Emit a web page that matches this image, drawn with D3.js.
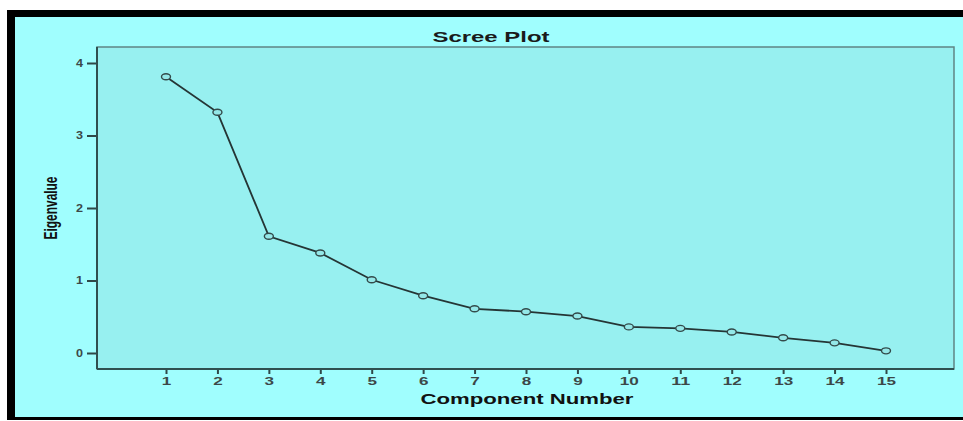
<!DOCTYPE html>
<html>
<head>
<meta charset="utf-8">
<script src="https://cdn.jsdelivr.net/npm/d3@7"></script>
<style>
  html, body { margin: 0; padding: 0; background: #ffffff; }
  svg { display: block; font-family: Arial, "Liberation Sans", sans-serif; }
</style>
</head>
<body>
<svg id="chart" width="963" height="421"></svg>
<script>
// Scree plot data: eigenvalue of each principal component
const components = [1, 2, 3, 4, 5, 6, 7, 8, 9, 10, 11, 12, 13, 14, 15];
const eigenvalues = [3.81, 3.32, 1.61, 1.38, 1.01, 0.79, 0.61, 0.57, 0.51, 0.36, 0.34, 0.29, 0.21, 0.14, 0.03];
const yTicks = [0, 1, 2, 3, 4];
const titleText = "Scree Plot";
const xTitle = "Component Number";
const yTitle = "Eigenvalue";

const svg = d3.select("#chart");

// Page frame: black band on top, left and bottom, cyan canvas inside
svg.append("rect").attr("x", 7).attr("y", 10).attr("width", 956).attr("height", 410).attr("fill", "#000");
svg.append("rect").attr("x", 15).attr("y", 17).attr("width", 948).attr("height", 400).attr("fill", "#a0fefe");

// Plot box
const box = { left: 97, top: 47, right: 954, bottom: 369 };

const x = d3.scaleLinear().domain([1, 15]).range([166, 886]);
const y = d3.scaleLinear().domain([0, 4]).range([353, 63]);

svg.append("rect")
  .attr("x", box.left).attr("y", box.top)
  .attr("width", box.right - box.left).attr("height", box.bottom - box.top)
  .attr("fill", "#97f0f0")
  .attr("stroke", "#5f8585").attr("stroke-width", 1.5);

// Axes along the left and bottom edges of the box
const yAxis = d3.axisLeft(y).tickValues(yTicks).tickSize(10).tickPadding(4).tickFormat(d3.format("d"));
const xAxis = d3.axisBottom(x).tickValues(components).tickSize(5).tickPadding(4).tickFormat(d3.format("d"));

const gy = svg.append("g").attr("transform", `translate(${box.left},0)`).call(yAxis);
const gx = svg.append("g").attr("transform", `translate(0,${box.bottom})`).call(xAxis);

[gy, gx].forEach(g => {
  g.select(".domain").remove();
  g.selectAll(".tick line").attr("stroke", "#2f4848").attr("stroke-width", 2);
  g.selectAll(".tick text")
    .attr("fill", "#3c4848")
    .attr("font-size", 10)
    .attr("font-weight", "bold");
});
gy.selectAll(".tick text")
  .attr("textLength", 7).attr("lengthAdjust", "spacingAndGlyphs")
  .attr("dy", "0.34em");
gx.selectAll(".tick text")
  .attr("textLength", d => String(d).length * 9.5).attr("lengthAdjust", "spacingAndGlyphs");

// Left and bottom axis lines
svg.append("line").attr("x1", box.left).attr("x2", box.left).attr("y1", box.top).attr("y2", box.bottom)
  .attr("stroke", "#2f4f4f").attr("stroke-width", 2);
svg.append("line").attr("x1", box.left).attr("x2", box.right).attr("y1", box.bottom).attr("y2", box.bottom)
  .attr("stroke", "#2f4f4f").attr("stroke-width", 2);

// Scree line
const pts = components.map((c, i) => [c, eigenvalues[i]]);
svg.append("path")
  .datum(pts)
  .attr("fill", "none")
  .attr("stroke", "#253535")
  .attr("stroke-width", 1.8)
  .attr("d", d3.line().x(d => x(d[0])).y(d => y(d[1])));

svg.append("g").selectAll("ellipse")
  .data(pts)
  .join("ellipse")
  .attr("cx", d => x(d[0]))
  .attr("cy", d => y(d[1]))
  .attr("rx", 4.5).attr("ry", 3)
  .attr("fill", "#94e8e8")
  .attr("stroke", "#334a4a")
  .attr("stroke-width", 1.4);

// Titles
svg.append("text")
  .attr("x", 491).attr("y", 42)
  .attr("text-anchor", "middle")
  .attr("font-size", 14).attr("font-weight", "bold").attr("fill", "#1a1a1a")
  .attr("textLength", 117).attr("lengthAdjust", "spacingAndGlyphs")
  .text(titleText);

svg.append("text")
  .attr("x", 527).attr("y", 404)
  .attr("text-anchor", "middle")
  .attr("font-size", 14).attr("font-weight", "bold").attr("fill", "#111")
  .attr("textLength", 213).attr("lengthAdjust", "spacingAndGlyphs")
  .text(xTitle);

svg.append("text")
  .attr("transform", "translate(57,208) rotate(-90) scale(1,1.6)")
  .attr("text-anchor", "middle")
  .attr("font-size", 12).attr("font-weight", "bold").attr("fill", "#111")
  .attr("textLength", 63).attr("lengthAdjust", "spacingAndGlyphs")
  .text(yTitle);
</script>
</body>
</html>
